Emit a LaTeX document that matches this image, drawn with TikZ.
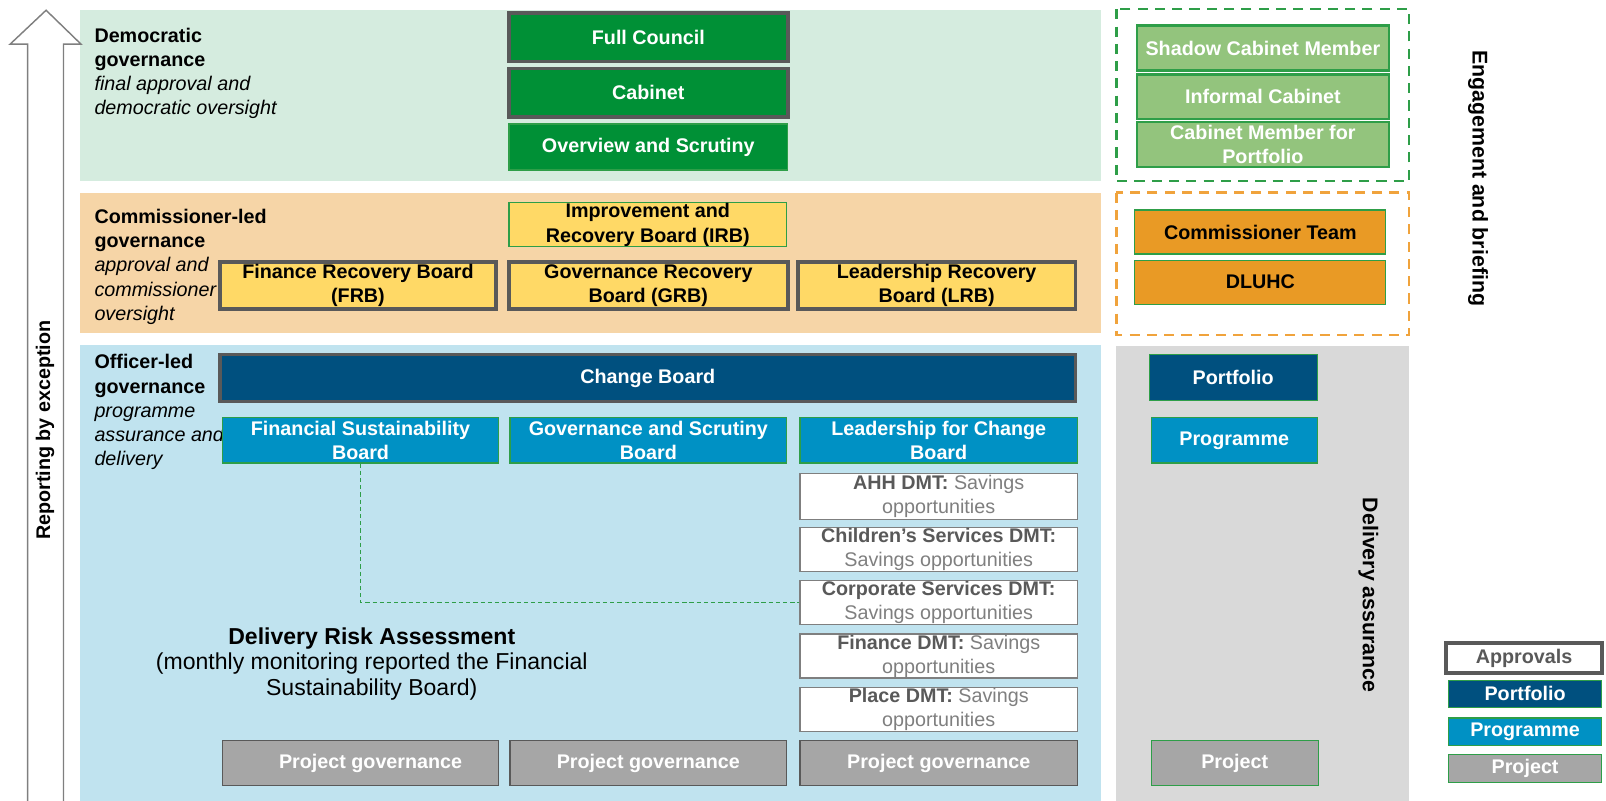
\documentclass[tikz,border=0pt]{standalone}
\usepackage{fontspec}
\setmainfont{Liberation Sans}
\definecolor{bandgreen}{HTML}{D5ECDF}
\definecolor{bandorange}{HTML}{F6D5A7}
\definecolor{bandblue}{HTML}{C0E3EF}
\definecolor{bandgray}{HTML}{D9D9D9}
\definecolor{councilgreen}{HTML}{009036}
\definecolor{paleleaf}{HTML}{93C47D}
\definecolor{leafline}{HTML}{2E9E48}
\definecolor{boardyellow}{HTML}{FFD966}
\definecolor{teamorange}{HTML}{E99A25}
\definecolor{portblue}{HTML}{00507F}
\definecolor{progblue}{HTML}{0091C4}
\definecolor{projgray}{HTML}{A6A6A6}
\definecolor{frame}{HTML}{595959}
\definecolor{dashorange}{HTML}{F0A33C}
\definecolor{dmtgray}{HTML}{7F7F7F}
\def\govbox[#1](#2,#3)(#4,#5)#6#7{\node[#1, minimum width={(#4-#2)*0.025cm}, minimum height={(#5-#3)*0.025cm}] (#6) at ({(#2+#4)/2},{(#3+#5)/2}) {#7};}
\tikzset{
  cell/.style={inner sep=0pt, align=center, font=\fontsize{13.7}{16.8}\selectfont\bfseries},
  approval/.style={cell, draw=frame, line width=2.6pt},
  thin/.style={cell, draw=leafline, line width=0.8pt},
  council/.style={fill=councilgreen, text=white},
  recovery/.style={fill=boardyellow, text=black},
  portfolio/.style={fill=portblue, text=white},
  programme/.style={fill=progblue, text=white},
  project/.style={thin, fill=projgray, text=white},
  projgov/.style={cell, draw=frame, line width=0.8pt, fill=projgray, text=white},
  dmt/.style={cell, draw=dmtgray, line width=0.8pt, fill=white, text=dmtgray, font=\fontsize{13.7}{16.8}\selectfont},
  member/.style={cell, draw=leafline, line width=1.8pt, fill=paleleaf, text=white},
  team/.style={thin, fill=teamorange, text=black},
  bandtext/.style={inner sep=0pt, anchor=north west, align=left, font=\fontsize{13.7}{16.8}\selectfont},
  sidetext/.style={inner sep=0pt, font=\fontsize{14.8}{17}\selectfont\bfseries}
}

\begin{document}
\begin{tikzpicture}[x=0.025cm, y=-0.025cm]
		%%%%% BACKGROUND %%%%%
		\useasboundingbox (0,0) rectangle (1568,782);
		\fill[bandgreen] (78,10) rectangle (1075,177);
		\fill[bandorange] (78,188) rectangle (1075,325);
		\fill[bandblue] (78,337) rectangle (1075,782);
		\fill[bandgray] (1090,338) rectangle (1376,782);
		\draw[leafline, line width=1.5pt, dash pattern=on 7pt off 5pt] (1090,9) rectangle (1376,177);
		\draw[dashorange, line width=1.5pt, dash pattern=on 7pt off 5pt] (1090,188) rectangle (1376,327);
		
		%%%%% ARROW %%%%%
		\draw[dmtgray, line width=1pt, fill=white] (27,782) -- (27,43) -- (10,43) -- (45,10) -- (79,43) -- (62,43) -- (62,782);
		\node[sidetext, font=\fontsize{13.7}{16.8}\selectfont\bfseries, rotate=90] (report) at (44,420) {Reporting by exception};
		
		%%%%% DEMOCRATIC %%%%%
		\node[bandtext] (demo) at (92,27) {\textbf{Democratic}\\\textbf{governance}\\\textit{final approval and}\\\textit{democratic oversight}};
		\govbox[approval, council](497,13)(769,60){fc}{Full Council}
		\govbox[approval, council](497,67)(769,114){cab}{Cabinet}
		\govbox[thin, council](497,121)(769,166){os}{Overview and Scrutiny}
		
		%%%%% COMMISSIONER %%%%%
		\node[bandtext] (comm) at (92,204) {\textbf{Commissioner-led}\\\textbf{governance}\\\textit{approval and}\\\textit{commissioner}\\\textit{oversight}};
		\govbox[thin, recovery](497,198)(768,241){irb}{Improvement and\\Recovery Board (IRB)}
		\govbox[approval, recovery](215,256)(484,302){frb}{Finance Recovery Board\\(FRB)}
		\govbox[approval, recovery](497,256)(769,302){grb}{Governance Recovery\\Board (GRB)}
		\govbox[approval, recovery](779,256)(1050,302){lrb}{Leadership Recovery\\Board (LRB)}
		
		%%%%% OFFICER %%%%%
		\node[bandtext] (officer) at (92,346) {\textbf{Officer-led}\\\textbf{governance}\\\textit{programme}\\\textit{assurance and}\\\textit{delivery}};
		\govbox[approval, portfolio](215,346)(1050,392){cb}{Change Board}
		\govbox[thin, programme](217,408)(487,452){fsb}{Financial Sustainability\\Board}
		\govbox[thin, programme](498,408)(768,452){gsb}{Governance and Scrutiny\\Board}
		\govbox[thin, programme](781,408)(1052,452){lcb}{Leadership for Change\\Board}
		\govbox[dmt](781,462)(1052,507){ahh}{\textcolor{frame}{\bfseries AHH DMT:} Savings\\opportunities}
		\govbox[dmt](781,515)(1052,558){chs}{\textcolor{frame}{\bfseries Children’s Services DMT:}\\Savings opportunities}
		\govbox[dmt](781,567)(1052,610){cs}{\textcolor{frame}{\bfseries Corporate Services DMT:}\\Savings opportunities}
		\govbox[dmt](781,619)(1052,662){fin}{\textcolor{frame}{\bfseries Finance DMT:} Savings\\opportunities}
		\govbox[dmt](781,671)(1052,714){place}{\textcolor{frame}{\bfseries Place DMT:} Savings\\opportunities}
		\govbox[projgov](217,723)(487,767){pg1}{\hspace*{14pt}Project governance}
		\govbox[projgov](498,723)(768,767){pg2}{Project governance}
		\govbox[projgov](781,723)(1052,767){pg3}{Project governance}
		\draw[leafline, line width=0.8pt, dash pattern=on 3pt off 2pt] (fsb.south) |- (cs.west);
		\node[inner sep=0pt, align=center, font=\fontsize{16}{17.7}\selectfont] (risk) at (363,648) {{\bfseries Delivery Risk Assessment}\\(monthly monitoring reported the Financial\\Sustainability Board)};
		
		%%%%% RIGHT COLUMN %%%%%
		\govbox[member](1110,25)(1356,69){shadow}{Shadow Cabinet Member}
		\govbox[member](1110,73)(1356,116){informal}{Informal Cabinet}
		\govbox[member](1110,119)(1356,163){cmp}{Cabinet Member for\\Portfolio}
		\govbox[team](1108,205)(1353,248){ct}{Commissioner Team}
		\govbox[team](1108,254)(1353,297){dluhc}{DLUHC}
		\node[sidetext, rotate=-90] (engage) at (1443,174) {Engagement and briefing};
		\govbox[thin, portfolio](1122,346)(1286,391){rport}{Portfolio}
		\govbox[thin, programme](1124,408)(1286,452){rprog}{Programme}
		\govbox[project](1124,723)(1287,767){rproj}{Project}
		\node[sidetext, rotate=-90] (assure) at (1336,581) {Delivery assurance};
		
		%%%%% LEGEND %%%%%
		\govbox[approval, fill=white, text=frame](1412,628)(1564,657){kapp}{Approvals}
		\govbox[thin, portfolio](1414,664)(1564,691){kport}{Portfolio}
		\govbox[thin, programme](1414,701)(1564,728){kprog}{Programme}
		\govbox[project](1414,737)(1564,764){kproj}{Project}
	\end{tikzpicture}
\end{document}
